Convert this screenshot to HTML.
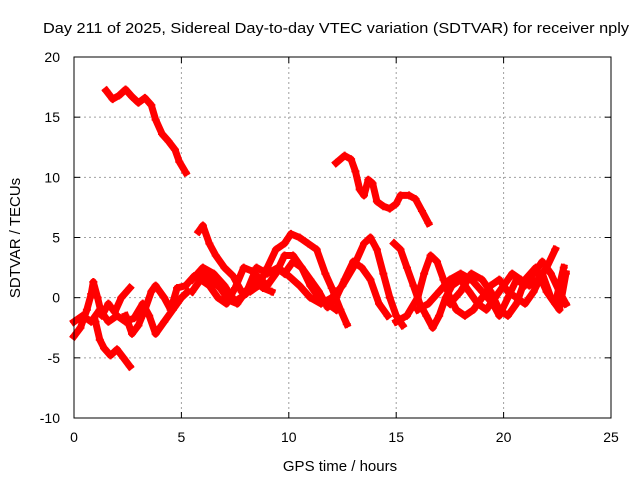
<!DOCTYPE html>
<html><head><meta charset="utf-8"><style>
body{margin:0;background:#fff}
svg{display:block;font-family:"Liberation Sans",sans-serif}
</style></head><body>
<svg id="chart" width="640" height="480" xmlns="http://www.w3.org/2000/svg">
<text x="336" y="33" font-size="15" text-anchor="middle" textLength="586" lengthAdjust="spacingAndGlyphs">Day 211 of 2025, Sidereal Day-to-day VTEC variation (SDTVAR) for receiver nply</text>
<text x="340" y="471" font-size="15" text-anchor="middle">GPS time / hours</text>
<text transform="translate(20,238) rotate(-90)" font-size="15" text-anchor="middle">SDTVAR / TECUs</text>
<g id="grid"></g><g id="series"></g><g id="axes"></g>
</svg>
<script>
const xTicks=[0,5,10,15,20,25];
const yTicks=[-10,-5,0,5,10,15,20];
const sA_x=[1.5,1.8,2.1,2.4,2.7,3.0,3.3,3.6,3.8,4.1,4.4,4.7,4.9,5.2];
const sA_y=[17.2,16.5,16.8,17.3,16.7,16.2,16.6,16.0,14.8,13.6,13.0,12.3,11.3,10.4];
const sB_x=[12.2,12.6,12.9,13.1,13.3,13.5,13.7,13.9,14.1,14.4,14.7,15.0,15.2,15.6,15.9,16.2,16.5];
const sB_y=[11.2,11.8,11.5,10.5,9.0,8.5,9.8,9.5,8.0,7.6,7.4,7.8,8.5,8.5,8.2,7.2,6.2];
const sC_x=[1.0,1.2,1.4,1.7,2.0,2.3,2.6];
const sC_y=[-2.0,-3.5,-4.2,-4.8,-4.3,-5.0,-5.7];
const sD_x=[0,0.3,0.6,0.8,0.9,1.1,1.3,1.6,1.9,2.2,2.6];
const sD_y=[-3.2,-2.5,-1.0,0.3,1.3,0,-1.5,-0.5,-1.2,0,0.8];
const sE_x=[0,0.4,0.8,1.2,1.6,2.0,2.4,2.8,3.2,3.5,3.8,4.2,4.6,5.0,5.3];
const sE_y=[-2.0,-1.5,-2.0,-1.0,-2.0,-1.5,-2.0,-1.7,-0.5,-1.5,-3.0,-2.0,-1.0,0,0.5];
const sF_x=[2.4,2.7,3.0,3.3,3.6,3.8,4.2,4.5,4.8,5.2,5.6,6.0,6.4,6.8,7.2,7.6,8.0,8.4,8.8,9.2];
const sF_y=[-1.5,-3.0,-2.3,-1.0,0.5,1.0,0,-1.0,0.8,1.0,1.8,2.0,1.5,0.8,-0.2,-0.5,0.5,1.5,0.8,0.5];
const sG_x=[5.8,6.0,6.3,6.6,7.0,7.4,7.8,8.2,8.6,9.0,9.4,9.8,10.1,10.5,10.9,11.3,11.7,12.0,12.4,12.7];
const sG_y=[5.5,6.0,4.5,3.5,2.5,1.8,0.5,0.5,1.0,2.5,4.0,4.5,5.3,5.0,4.5,4.0,2.0,0.8,-1.0,-2.2];
const sH_x=[5.5,5.9,6.3,6.7,7.1,7.5,7.9,8.3,8.7,9.0,9.4,9.8,10.2,10.6,11.0,11.4,11.8,12.2];
const sH_y=[0.5,1.5,1.0,0.0,-0.5,0.8,2.5,2.2,1.5,1.0,2.0,3.5,3.5,2.5,1.0,0,-0.5,-1.0];
const sI_x=[5.5,6.0,6.5,7.0,7.5,8.0,8.5,9.0,9.5,10.0,10.5,11.0,11.5,12.0,12.5,13.0,13.5,13.8,14.1,14.4,14.7,15.0,15.3];
const sI_y=[1.5,2.5,2.0,1.0,-0.3,0.3,2.5,2.0,2.5,1.8,1.0,0,-0.5,0,1.0,2.5,4.5,5.0,4.0,2.0,0,-1.5,-2.3];
const sJ_x=[9.8,10.2,10.6,11.0,11.4,11.8,12.2,12.6,13.0,13.4,13.8,14.2,14.6];
const sJ_y=[2.0,3.0,2.5,1.5,0.5,-0.8,0,1.5,3.0,2.5,1.5,-0.5,-1.5];
const sK_x=[14.9,15.2,15.5,15.8,16.1,16.4,16.7,17.0,17.3,17.6,18.0,18.4,18.8,19.2,19.6,20.0,20.4,20.8,21.2,21.6,22.0,22.4];
const sK_y=[4.5,4.0,2.5,1.0,-0.5,-1.5,-2.5,-1.5,0,1.0,1.5,0.5,-0.5,-1.0,0,1.0,2.0,1.5,1.0,1.5,2.5,4.0];
const sL_x=[15.0,15.5,16.0,16.3,16.6,16.9,17.2,17.5,17.8,18.2,18.6,19.0,19.4,19.8,20.2,20.6,21.0,21.4,21.8,22.2,22.6,22.9];
const sL_y=[-2.0,-1.5,0,2.0,3.5,3.0,1.5,0,-1.0,-1.5,-1.0,0,1.0,1.5,0.5,0,-0.5,0.5,2.0,0,-1.0,2.0];
const sM_x=[16.0,16.5,17.0,17.5,18.0,18.5,19.0,19.5,19.8,20.2,20.6,21.0,21.4,21.8,22.2,22.6,22.9];
const sM_y=[-1.0,-0.5,0.5,1.5,2.0,1.5,0.5,-0.5,-1.5,0,1.5,1.0,2.0,3.0,2.0,0.5,-0.5];
const sN_x=[17.5,18.0,18.5,19.0,19.4,19.8,20.2,20.6,21.0,21.5,22.0,22.4,22.8];
const sN_y=[-0.5,0.5,2.0,1.5,0.5,-1.0,-1.5,-0.5,1.5,2.5,0.5,-0.5,2.5];
const seriesList=[[sA_x,sA_y],[sB_x,sB_y],[sC_x,sC_y],[sD_x,sD_y],[sE_x,sE_y],[sF_x,sF_y],[sG_x,sG_y],[sH_x,sH_y],[sI_x,sI_y],[sJ_x,sJ_y],[sK_x,sK_y],[sL_x,sL_y],[sM_x,sM_y],[sN_x,sN_y]];

const L=74,R=611,T=57,B=418;
const sx=v=>L+(v-0)/(25-0)*(R-L);
const sy=v=>B-(v+10)/30*(B-T);
const NS="http://www.w3.org/2000/svg";
function mk(tag,attrs,parent){const e=document.createElementNS(NS,tag);for(const k in attrs)e.setAttribute(k,attrs[k]);parent.appendChild(e);return e;}
const grid=document.getElementById('grid'),axes=document.getElementById('axes'),ser=document.getElementById('series');
xTicks.forEach(t=>{
  const x=sx(t);
  if(t>0&&t<25){const g=mk('line',{x1:x,x2:x,y1:T,y2:B,stroke:'#a0a0a0','stroke-dasharray':'2,3'},grid);
  
  }
  mk('line',{x1:x,x2:x,y1:B,y2:B-6,stroke:'#000'},axes);
  mk('line',{x1:x,x2:x,y1:T,y2:T+6,stroke:'#000'},axes);
  const tx=mk('text',{x:x,y:B+24,'font-size':14,'text-anchor':'middle'},axes);
  tx.textContent=t;
  
  
});
yTicks.forEach(t=>{
  const y=sy(t);
  if(t>-10&&t<20){const g=mk('line',{x1:L,x2:R,y1:y,y2:y,stroke:'#a0a0a0','stroke-dasharray':'2,3'},grid);
  
  }
  mk('line',{x1:L,x2:L+6,y1:y,y2:y,stroke:'#000'},axes);
  mk('line',{x1:R,x2:R-6,y1:y,y2:y,stroke:'#000'},axes);
  const tx=mk('text',{x:L-14,y:y+5,'font-size':14,'text-anchor':'end'},axes);
  tx.textContent=t;
  
  
});
const fr=mk('rect',{x:L,y:T,width:R-L,height:B-T,fill:'none',stroke:'#000'},axes);


seriesList.forEach(([xs,ys])=>{
  const pts=xs.map((v,i)=>sx(v).toFixed(1)+','+sy(ys[i]).toFixed(1)).join(' ');
  const pl=mk('polyline',{points:pts,fill:'none',stroke:'#ff0000','stroke-width':7,'stroke-linejoin':'round','stroke-linecap':'square'},ser);
  
  
  xs.forEach((v,i)=>{
    const cx=sx(v),cy=sy(ys[i]);
    const p=mk('path',{d:`M${cx-4},${cy}H${cx+4}M${cx},${cy-4}V${cy+4}`,stroke:'#ff0000','stroke-width':2},ser);
    
    
  });
});
</script>
</body></html>
